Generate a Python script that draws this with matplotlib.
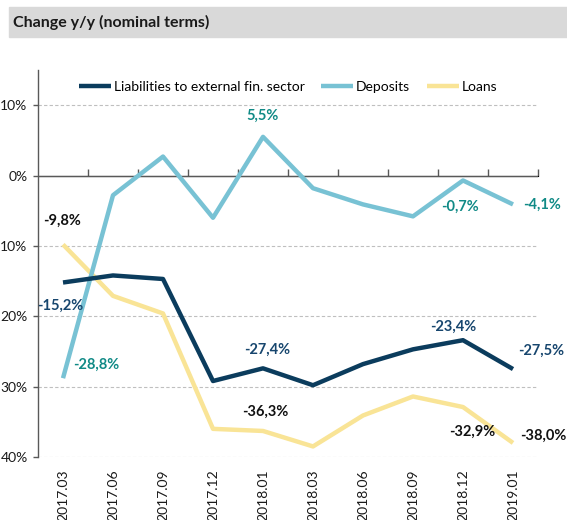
import matplotlib
matplotlib.use("Agg")
import matplotlib.pyplot as plt
from matplotlib.patches import Rectangle
from matplotlib.ticker import FixedLocator, NullFormatter

plt.rcParams['font.family'] = ['Lato', 'DejaVu Sans']

# ---------- DATA ----------
periods = ["2017.03", "2017.06", "2017.09", "2017.12", "2018.01",
           "2018.03", "2018.06", "2018.09", "2018.12", "2019.01"]
liabilities = [-15.2, -14.2, -14.7, -29.2, -27.4, -29.8, -26.8, -24.7, -23.4, -27.5]
deposits = [-28.8, -2.8, 2.7, -6.0, 5.5, -1.8, -4.1, -5.8, -0.7, -4.1]
loans = [-9.8, -17.1, -19.6, -36.0, -36.3, -38.5, -34.1, -31.4, -32.9, -38.0]

yticks = [10, 0, -10, -20, -30, -40]
# the reference shows the axis labels with the minus cut off at the edge
ytick_labels = ["10%", "0%", "10%", "20%", "30%", "40%"]

# which points get a value label, and the label offset (points)
liab_labels = {0: (-2, -17), 4: (3, 13), 8: (-7, 10), 9: (20, 13)}
dep_labels = {0: (24, 10), 4: (0, 15), 8: (-2, -19), 9: (21, 0)}
loan_labels = {0: (-1, 17), 4: (2, 14), 8: (7, -18), 9: (22, 5)}

C_LIAB = "#0b3c5d"
C_DEP = "#78c2d4"
C_LOAN = "#f9e496"
C_LIAB_TXT = "#17466e"
C_DEP_TXT = "#108a86"

fig = plt.figure(figsize=(5.67, 5.20), dpi=100)

# title band
fig.patches.append(Rectangle((9 / 567, 1 - 37 / 520), 1, 30 / 520,
                             transform=fig.transFigure, color="#d9d9d9", zorder=0))
fig.text(13 / 567, 1 - 22 / 520, "Change y/y (nominal terms)", fontsize=11.5,
         fontweight="bold", va="center", ha="left", color="#1a1a1a")

ax = fig.add_axes([38 / 567, 1 - 457 / 520, 500 / 567, 387 / 520])
x = list(range(len(periods)))

ax.plot(x, liabilities, color=C_LIAB, lw=3.2, label="Liabilities to external fin. sector",
        solid_capstyle="butt", zorder=4)
ax.plot(x, deposits, color=C_DEP, lw=3.2, label="Deposits", solid_capstyle="butt", zorder=3)
ax.plot(x, loans, color=C_LOAN, lw=3.2, label="Loans", solid_capstyle="butt", zorder=2)


def label_points(values, spec, color):
    for i, (dx, dy) in spec.items():
        ax.annotate(f"{values[i]:.1f}%".replace(".", ","), (x[i], values[i]),
                    xytext=(dx, dy), textcoords="offset points", ha="center",
                    va="center", fontsize=10.5, fontweight="bold", color=color, zorder=6)


label_points(liabilities, liab_labels, C_LIAB_TXT)
label_points(deposits, dep_labels, C_DEP_TXT)
label_points(loans, loan_labels, "#111111")

ax.set_xlim(-0.5, len(periods) - 0.5)
ax.set_ylim(-40, 15)

ax.set_yticks(yticks)
ax.set_yticklabels(ytick_labels, fontsize=10, color="#1a1a1a")
for v in yticks:
    if v != 0:
        ax.axhline(v, color="#bfbfbf", lw=0.8, ls=(0, (3, 2)), zorder=1)
ax.axhline(0, color="#595959", lw=1.0, zorder=1)

ax.set_xticks(x)
ax.set_xticklabels(periods, rotation=90, fontsize=10, color="#1a1a1a")
ax.tick_params(axis="x", length=0, pad=9)
ax.tick_params(axis="y", length=3.5, width=1, color="#595959", pad=4)

for s in ["top", "right", "bottom"]:
    ax.spines[s].set_visible(False)
ax.spines["left"].set_color("#595959")
ax.spines["left"].set_linewidth(1.0)

# category boundary ticks on the zero line
sec = ax.secondary_xaxis(40 / 55)
sec.spines["bottom"].set_visible(False)
sec.xaxis.set_major_locator(FixedLocator([i + 0.5 for i in x]))
sec.xaxis.set_major_formatter(NullFormatter())
sec.tick_params(axis="x", direction="out", length=5, width=1, color="#595959")

ax.legend(loc="upper center", bbox_to_anchor=(0.5, 1.0), ncol=3, frameon=False,
          fontsize=10, handlelength=2.3, handletextpad=0.2, columnspacing=1.2,
          borderaxespad=0.4)

fig.savefig("out.png", dpi=100)
